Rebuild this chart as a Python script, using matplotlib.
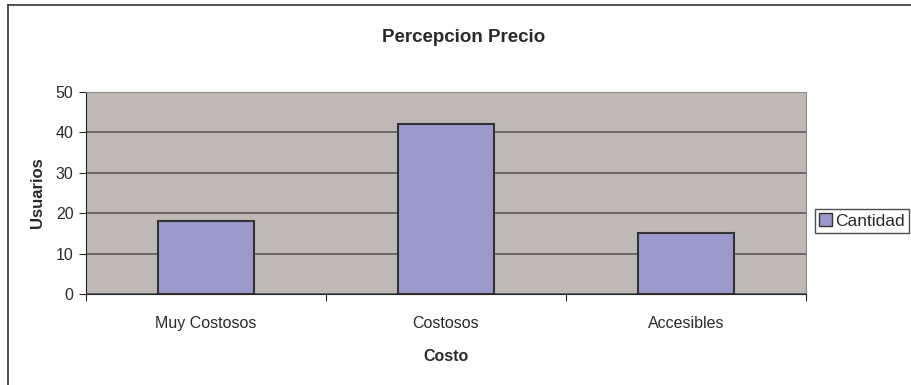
import matplotlib.pyplot as plt
from matplotlib.lines import Line2D
from matplotlib.patches import Patch

plt.rcParams['font.family'] = ['Liberation Sans', 'DejaVu Sans']

# data
categorias = ['Muy Costosos', 'Costosos', 'Accesibles']
cantidad = [18, 42, 15]
y_ticks = [0, 10, 20, 30, 40, 50]

txt = '#2a2a2a'

fig = plt.figure(figsize=(9.11, 3.85), dpi=100)
ax = fig.add_axes([86 / 911, 1 - 294 / 385, 720 / 911, 202 / 385])

pos = [i + 0.5 for i in range(len(categorias))]
ax.bar(pos, cantidad, width=0.4, color='#9999CC', edgecolor='#333333', linewidth=1.5, zorder=3)

ax.set_facecolor('#C0B8B4')
ax.set_xlim(0, 3)
ax.set_ylim(0, 50)
ax.set_yticks(y_ticks)
ax.yaxis.grid(True, color='#5a5a5a', linewidth=1.2, zorder=1)

# boundary ticks + category labels
ax.set_xticks([0, 1, 2, 3])
ax.set_xticklabels([])
ax.set_xticks(pos, minor=True)
ax.set_xticklabels(categorias, minor=True)
ax.tick_params(axis='x', which='minor', length=0, pad=16, labelsize=11.5, colors=txt)
ax.tick_params(axis='x', which='major', length=5, direction='out', color='#222222')
ax.tick_params(axis='y', length=5, direction='out', labelsize=11.5, colors=txt, pad=4)

for s in ['top', 'right']:
    ax.spines[s].set_color('#8a8a8a')
ax.spines['left'].set_color('#222222')
ax.spines['bottom'].set_color('#222222')

ax.set_ylabel('Usuarios', fontsize=12, fontweight='bold', labelpad=8, color=txt)
ax.set_xlabel('Costo', fontsize=11.5, fontweight='bold', labelpad=13, color=txt)
fig.text(464 / 911, 1 - 37 / 385, 'Percepcion Precio', ha='center', va='center',
         fontsize=13.5, fontweight='bold', color=txt)

# outer chart frame (cropped)
fig.add_artist(Line2D([8 / 911, 8 / 911], [0, 1 - 5 / 385], color='#333333', lw=1.2))
fig.add_artist(Line2D([8 / 911, 1], [1 - 5 / 385, 1 - 5 / 385], color='#333333', lw=1.2))

leg = fig.legend(handles=[Patch(facecolor='#9999CC', edgecolor='#333333', label='Cantidad')],
                 loc='center left', bbox_to_anchor=(815 / 911, 1 - 221 / 385),
                 fontsize=12.5, frameon=True, fancybox=False, handlelength=0.75,
                 handleheight=0.75, handletextpad=0.15, borderpad=0.25, borderaxespad=0)
leg.get_frame().set_edgecolor('#222222')
leg.get_frame().set_linewidth(1.0)
for t in leg.get_texts():
    t.set_color(txt)

fig.savefig('out.png', dpi=100)
